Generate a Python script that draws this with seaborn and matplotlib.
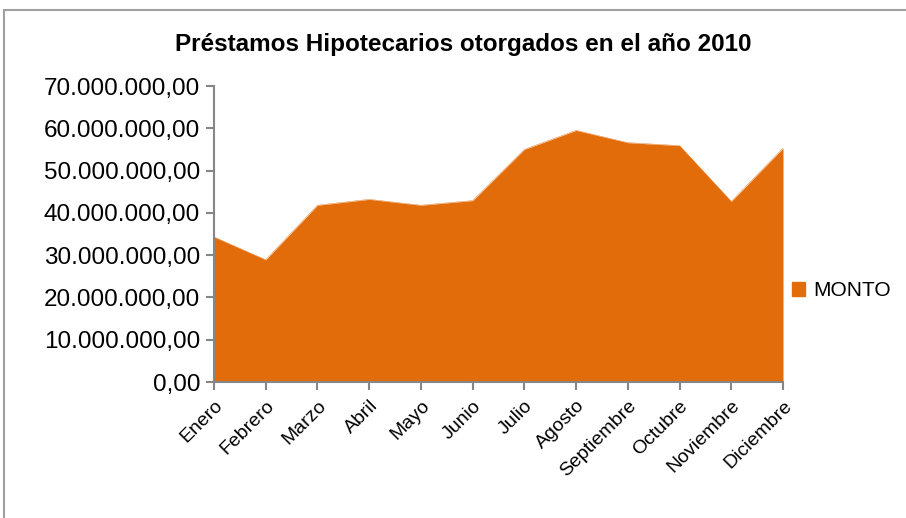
import numpy as np
import pandas as pd
import seaborn as sns
import matplotlib.pyplot as plt
from matplotlib.patches import Patch, Rectangle
from matplotlib.ticker import FuncFormatter, MultipleLocator

# Monthly mortgage loan amounts, 2010
meses = ["Enero", "Febrero", "Marzo", "Abril", "Mayo", "Junio", "Julio",
         "Agosto", "Septiembre", "Octubre", "Noviembre", "Diciembre"]
monto = [34.3e6, 28.9e6, 41.8e6, 43.2e6, 41.8e6, 42.9e6, 55.0e6,
         59.5e6, 56.6e6, 55.9e6, 42.7e6, 55.3e6]

color = "#E36C0A"
grey = "#868686"

sns.set_theme(style="white")
plt.rcParams["font.family"] = ["Liberation Sans", "DejaVu Sans"]
plt.rcParams["text.color"] = "black"
plt.rcParams["xtick.labelcolor"] = "black"
plt.rcParams["ytick.labelcolor"] = "black"

df = pd.DataFrame({"pos": np.arange(len(meses)), "mes": meses, "monto": monto})

fig = plt.figure(figsize=(9.06, 5.18), dpi=100)
ax = fig.add_axes([214 / 906, 1 - 382 / 518, (783 - 214) / 906, (382 - 86) / 518])

sns.lineplot(data=df, x="pos", y="monto", color=color, linewidth=0.3, ax=ax)
ax.fill_between(df["pos"], df["monto"], color=color, linewidth=0)

ax.set_xlim(0, len(meses) - 1)
ax.set_ylim(0, 70e6)
ax.yaxis.set_major_locator(MultipleLocator(10e6))


def fmt(v, _):
    s = f"{v:,.2f}"
    return s.replace(",", "X").replace(".", ",").replace("X", ".")


ax.yaxis.set_major_formatter(FuncFormatter(fmt))
ax.set_xticks(df["pos"])
ax.set_xticklabels(meses, rotation=45, ha="right", rotation_mode="anchor", fontsize=14)
ax.tick_params(axis="y", labelsize=17.5, colors=grey, labelcolor="black",
               length=6, width=1.5, direction="out", left=True, pad=4)
ax.tick_params(axis="x", colors=grey, labelcolor="black",
               length=6, width=1.5, direction="out", bottom=True, pad=5)
ax.set_xlabel("")
ax.set_ylabel("")

sns.despine(ax=ax)
for side in ["left", "bottom"]:
    ax.spines[side].set_color(grey)
    ax.spines[side].set_linewidth(1.5)

fig.text(0.511, 1 - 45 / 518, "Préstamos Hipotecarios otorgados en el año 2010",
         ha="center", va="center", fontsize=17.5, fontweight="bold", color="black")

fig.legend(handles=[Patch(facecolor=color, edgecolor=color, label="MONTO")],
           loc="center left", bbox_to_anchor=(773 / 906, 1 - 291 / 518),
           frameon=False, fontsize=15, handlelength=0.65, handleheight=0.65,
           handletextpad=0.4)

# outer chart border
fig.patches.append(Rectangle((4 / 906, -0.1), 1.2, 1.1 - 10 / 518,
                             transform=fig.transFigure, fill=False,
                             edgecolor="#a0a0a0", linewidth=1.5))

fig.savefig("out.png", dpi=100)
